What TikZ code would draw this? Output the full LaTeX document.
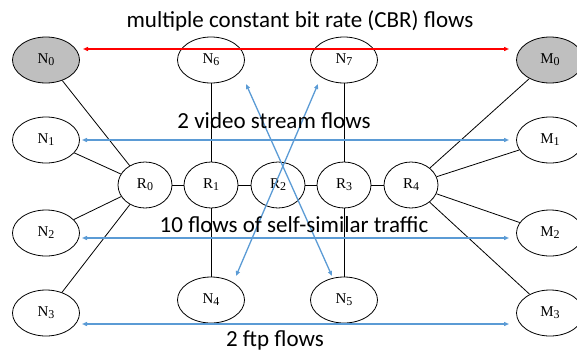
\documentclass[tikz,border=0pt]{standalone}
\usepackage{fontspec}
\setmainfont{Liberation Serif}
\newfontfamily\flowfont{Carlito}
\usetikzlibrary{shapes.geometric, arrows.meta, positioning}
\definecolor{flowBlue}{HTML}{5B9BD5}
\definecolor{cbrRed}{HTML}{FF0000}
\definecolor{hostGray}{HTML}{BFBFBF}
\newcommand{\nd}[2]{#1\raisebox{-2pt}{\fontsize{12}{12}\selectfont #2}}

\begin{document}
\begin{tikzpicture}[x=1pt, y=-1pt,
  host/.style={ellipse, draw, line width=0.8pt, minimum width=67pt,
    minimum height=46pt, inner sep=0pt, font=\fontsize{15}{15}\selectfont},
  router/.style={host, minimum width=54pt},
  src/.style={host, fill=hostGray},
  link/.style={line width=0.8pt},
  flow/.style={flowBlue, line width=1.3pt,
    {Triangle[length=5pt,width=4pt]}-{Triangle[length=5pt,width=4pt]}},
  flowtxt/.style={font=\flowfont\fontsize{23}{23}\selectfont}]
  \useasboundingbox (0,0) rectangle (577,351);

  % hosts
  \node[src]  (N0) at (46,60)  {\nd{N}{0}};
  \node[host] (N1) at (46,140) {\nd{N}{1}};
  \node[host] (N2) at (46,233) {\nd{N}{2}};
  \node[host] (N3) at (46,313) {\nd{N}{3}};
  \node[host] (N6) at (211,60) {\nd{N}{6}};
  \node[host] (N7) at (344,60) {\nd{N}{7}};
  \node[host] (N4) at (211,300) {\nd{N}{4}};
  \node[host] (N5) at (344,300) {\nd{N}{5}};
  \node[src]  (M0) at (550,60)  {\nd{M}{0}};
  \node[host] (M1) at (550,140) {\nd{M}{1}};
  \node[host] (M2) at (550,233) {\nd{M}{2}};
  \node[host] (M3) at (550,313) {\nd{M}{3}};

  % routers
  \node[router] (R0) at (145,185) {\nd{R}{0}};
  \node[router] (R1) at (211,185) {\nd{R}{1}};
  \node[router] (R2) at (278,185) {\nd{R}{2}};
  \node[router] (R3) at (344,185) {\nd{R}{3}};
  \node[router] (R4) at (411,185) {\nd{R}{4}};

  % links
  \foreach \a/\b in {R0/R1, R1/R2, R2/R3, R3/R4, N0/R0, N1/R0, N2/R0, N3/R0,
    N6/R1, R1/N4, N7/R3, R3/N5, R4/M0, R4/M1, R4/M2, R4/M3}
    \draw[link] (\a) -- (\b);

  % flow end points
  \coordinate (cbrL) at (83,49);  \coordinate (cbrR) at (509,49);
  \coordinate (vidL) at (82,140); \coordinate (vidR) at (509,140);
  \coordinate (ssL)  at (82,238); \coordinate (ssR)  at (509,238);
  \coordinate (ftpL) at (82,324); \coordinate (ftpR) at (509,324);
  \coordinate (x1a) at (246,84);  \coordinate (x1b) at (332,276);
  \coordinate (x2a) at (318,84);  \coordinate (x2b) at (236,276);

  % flows
  \draw[flow, cbrRed] (cbrL) -- (cbrR);
  \draw[flow] (vidL) -- (vidR);
  \draw[flow] (ssL) -- (ssR);
  \draw[flow] (ftpL) -- (ftpR);
  \draw[flow] (x1a) -- (x1b);
  \draw[flow] (x2a) -- (x2b);

  % flow labels
  \node[flowtxt] (tCBR) at (300,21)  {multiple constant bit rate (CBR) flows};
  \node[flowtxt] (tVid) at (274,121) {2 video stream flows};
  \node[flowtxt] (tSS)  at (294,225) {10 flows of self-similar traffic};
  \node[flowtxt] (tFtp) at (275,340) {2 ftp flows};
\end{tikzpicture}
\end{document}
